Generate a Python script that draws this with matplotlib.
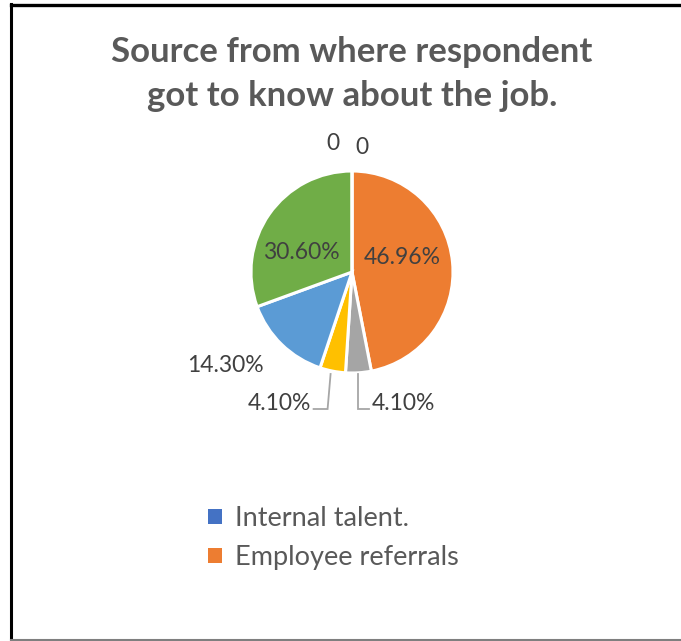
import matplotlib
matplotlib.use("Agg")
import matplotlib.pyplot as plt
import numpy as np
from matplotlib.lines import Line2D
from matplotlib.patches import Patch

# ---- data ----
categories = ["Internal talent.", "Employee referrals", "Source 3", "Source 4",
              "Source 5", "Source 6", "Source 7"]
values = [0, 46.96, 4.10, 4.10, 14.30, 30.60, 0]
labels = ["0", "46.96%", "4.10%", "4.10%", "14.30%", "30.60%", "0"]
colors = ["#4472C4", "#ED7D31", "#A5A5A5", "#FFC000", "#5B9BD5", "#70AD47", "#264478"]
title = "Source from where respondent\ngot to know about the job."

FONT = ["Lato", "DejaVu Sans"]
W, H = 681, 641
fig = plt.figure(figsize=(W / 100, H / 100), dpi=100)

# frame (left / top black, bottom grey)
fig.add_artist(Line2D([11 / W, 11 / W], [0, 1 - 4 / H], color="black", lw=2.2))
fig.add_artist(Line2D([11 / W, 1], [1 - 5 / H, 1 - 5 / H], color="black", lw=2.4))
fig.add_artist(Line2D([11 / W, 1], [1.5 / H, 1.5 / H], color="#7f7f7f", lw=1.5))

fig.text(352 / W, 1 - 74 / H, title, ha="center", va="center", fontsize=25,
         fontweight="bold", color="#595959", family=FONT, linespacing=1.45)

# pie axes: centre at (352, 272) px, 100 px per data unit
cx, cy = 352, 272
ax = fig.add_axes([(cx - 150) / W, (H - cy - 150) / H, 300 / W, 300 / H])

R = 1.01
wedges, _ = ax.pie(values, colors=colors, startangle=90, counterclock=False,
                   radius=R, wedgeprops=dict(edgecolor="white", linewidth=2.2))
ax.set_xlim(-1.5, 1.5)
ax.set_ylim(-1.5, 1.5)
ax.set_aspect("equal")
ax.axis("off")

def mid(i):
    w = wedges[i]
    a = np.deg2rad((w.theta1 + w.theta2) / 2)
    return np.cos(a), np.sin(a)

tc = "#404040"
fs = 16.5
# inside labels
c, s = mid(1)
ax.text(0.50 * c, 0.5 * s + 0.10, labels[1], ha="center", va="center", fontsize=fs, color=tc, family=FONT)
c, s = mid(5)
ax.text(0.58 * c - 0.03, 0.58 * s - 0.14, labels[5], ha="center", va="center", fontsize=fs, color=tc, family=FONT)
# outside label blue
ax.text(-1.27, -0.93, labels[4], ha="center", va="center", fontsize=fs, color=tc, family=FONT)
# zeros
ax.text(-0.19, 1.29, labels[6], ha="center", va="center", fontsize=fs, color=tc, family=FONT)
ax.text(0.10, 1.24, labels[0], ha="center", va="center", fontsize=fs, color=tc, family=FONT)

# leader lines for small slices
lc = "#A6A6A6"
c, s = mid(2)
x0 = R * c
ax.plot([x0, x0, x0 + 0.11], [-1.02, -1.37, -1.37], color=lc, lw=1.3, solid_joinstyle="miter")
ax.text(x0 + 0.13, -1.31, labels[2], ha="left", va="center", fontsize=fs, color=tc, family=FONT)
c, s = mid(3)
x0 = R * c
ax.plot([x0 - 0.02, x0 - 0.05, x0 - 0.19], [-1.02, -1.37, -1.37], color=lc, lw=1.3, solid_joinstyle="miter")
ax.text(x0 - 0.21, -1.31, labels[3], ha="right", va="center", fontsize=fs, color=tc, family=FONT)

# legend (only first two entries visible)
handles = [Patch(facecolor=colors[i], edgecolor="none") for i in range(2)]
fig.legend(handles, categories[:2], loc="upper left", bbox_to_anchor=(184 / W, 1 - 482 / H),
           frameon=False, prop=dict(family=FONT, size=19.5), labelcolor="#595959",
           handlelength=0.5, handleheight=0.5, handletextpad=0.5, labelspacing=0.5)

fig.savefig("out.png", dpi=100)
